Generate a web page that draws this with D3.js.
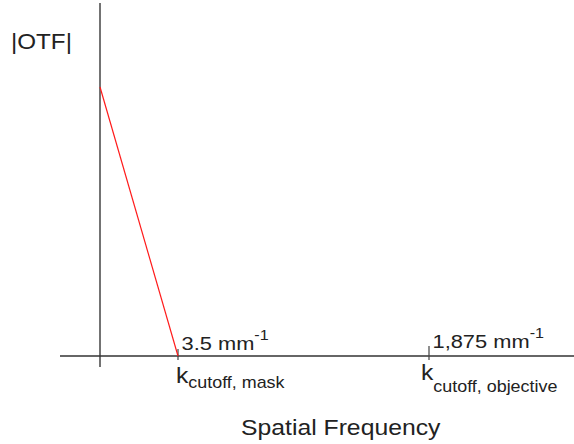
<!DOCTYPE html>
<html>
<head>
<meta charset="utf-8">
<script src="https://cdn.jsdelivr.net/npm/d3@7"></script>
<style>
    body { margin: 0; background: #fff; }
    text { font-family: "Liberation Sans", Arial, sans-serif; fill: #222; }
</style>
</head>
<body>
<script>
// schematic positions along the frequency axis (not to scale)
const freqStops = [0, 3.5, 1875];
const freqPx = [100, 178, 429];

// |OTF| curve: falls from 1 at k = 0 to 0 at the mask cutoff
const otfFreq = [0, 3.5];
const otfValue = [1, 0];

const cutoffValues = ["3.5", "1,875"];
const cutoffFreq = [3.5, 1875];
const cutoffNames = ["cutoff, mask", "cutoff, objective"];

const width = 574, height = 444;

const svg = d3.select("body").append("svg")
    .attr("width", width)
    .attr("height", height);

const x = d3.scaleLinear().domain(freqStops).range(freqPx);
const y = d3.scaleLinear().domain([0, 1]).range([356, 87]);

// text in the original is a little wider than Arial, so stretch it
const label = (px, py, sx) => svg.append("g")
    .attr("transform", `translate(${px},${py}) scale(${sx},1)`)
    .append("text");

// axes
svg.append("line")
    .attr("x1", x(0)).attr("x2", x(0))
    .attr("y1", 3).attr("y2", 367)
    .attr("stroke", "#444").attr("stroke-width", 1.5);
svg.append("line")
    .attr("x1", 60).attr("x2", width)
    .attr("y1", y(0)).attr("y2", y(0))
    .attr("stroke", "#333").attr("stroke-width", 1.5);

// ticks at the cutoffs
svg.selectAll(".tick")
    .data(cutoffFreq)
    .enter()
    .append("line")
    .attr("x1", d => x(d)).attr("x2", d => x(d))
    .attr("y1", (d, i) => i === 0 ? 349 : 346)
    .attr("y2", 360)
    .attr("stroke", "#444").attr("stroke-width", 1.2);

// OTF line
const pts = otfFreq.map((f, i) => [f, otfValue[i]]);
svg.append("path")
    .datum(pts)
    .attr("d", d3.line().x(d => x(d[0])).y(d => y(d[1])))
    .attr("fill", "none")
    .attr("stroke", "#ff1a1a")
    .attr("stroke-width", 1.2);

// labels
label(11, 49, 1.1)
    .style("font-size", "22px")
    .text("|OTF|");

cutoffFreq.forEach((f, i) => {
    const v = label(x(f) + 3.5, i === 0 ? 350 : 348, 1.15)
        .style("font-size", "19px");
    v.append("tspan").text(cutoffValues[i] + " mm");
    v.append("tspan")
        .attr("dy", -10)
        .style("font-size", "14px")
        .text("-1");

    const k = label(x(f) - (i === 0 ? 2 : 8), i === 0 ? 383 : 380, 1.12)
        .style("font-size", "22px");
    k.append("tspan").text("k");
    k.append("tspan")
        .attr("dy", i === 0 ? 5 : 12)
        .style("font-size", "16px")
        .text(cutoffNames[i]);
});

label(241, 435, 1.125)
    .style("font-size", "22px")
    .text("Spatial Frequency");
</script>
</body>
</html>
